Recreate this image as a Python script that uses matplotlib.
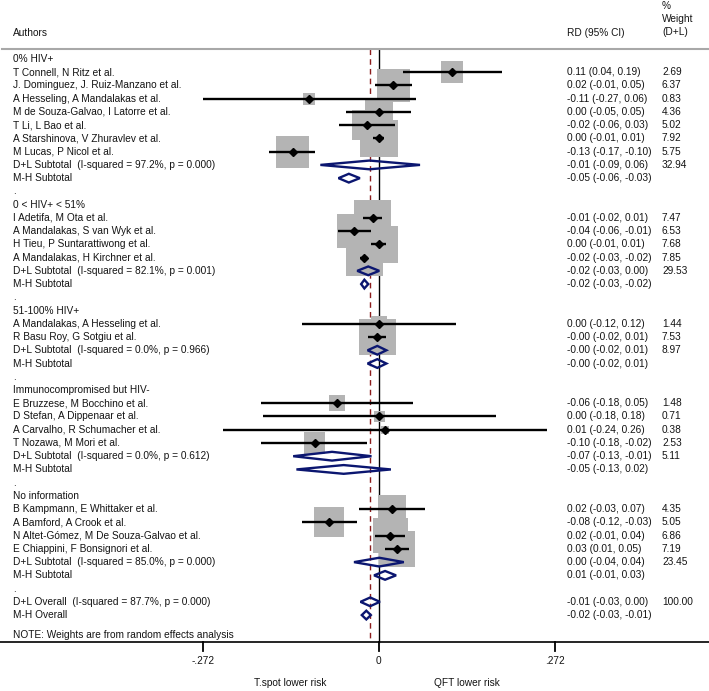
import matplotlib
matplotlib.use('Agg')
import matplotlib.pyplot as plt
from matplotlib.patches import Rectangle, Polygon
import matplotlib.transforms as mtransforms
import numpy as np

plt.rcParams['font.family'] = ['Liberation Sans', 'DejaVu Sans']

# ---- data ----
groups = ['0% HIV+', '0 < HIV+ < 51%', '51-100% HIV+',
          'Immunocompromised but HIV-', 'No information']

authors = [
    ['T Connell, N Ritz et al.', 'J. Dominguez, J. Ruiz-Manzano et al.',
     'A Hesseling, A Mandalakas et al.', 'M de Souza-Galvao, I Latorre et al.',
     'T Li, L Bao et al.', 'A Starshinova, V Zhuravlev et al.',
     'M Lucas, P Nicol et al.'],
    ['I Adetifa, M Ota et al.', 'A Mandalakas, S van Wyk et al.',
     'H Tieu, P Suntarattiwong et al.', 'A Mandalakas, H Kirchner et al.'],
    ['A Mandalakas, A Hesseling et al.', 'R Basu Roy, G Sotgiu et al.'],
    ['E Bruzzese, M Bocchino et al.', 'D Stefan, A Dippenaar et al.',
     'A Carvalho, R Schumacher et al.', 'T Nozawa, M Mori et al.'],
    ['B Kampmann, E Whittaker et al.', 'A Bamford, A Crook et al.',
     'N Altet-Gómez, M De Souza-Galvao et al.', 'E Chiappini, F Bonsignori et al.'],
]
est = [
    [0.114, 0.023, -0.107, 0.001, -0.018, 0.001, -0.133],
    [-0.009, -0.038, 0.001, -0.022],
    [0.001, -0.002],
    [-0.064, 0.001, 0.010, -0.099],
    [0.020, -0.076, 0.018, 0.029],
]
lo = [
    [0.038, -0.006, -0.272, -0.050, -0.061, -0.008, -0.169],
    [-0.024, -0.063, -0.012, -0.028],
    [-0.118, -0.017],
    [-0.182, -0.178, -0.240, -0.181],
    [-0.030, -0.119, -0.006, 0.0101],
]
hi = [
    [0.191, 0.052, 0.058, 0.050, 0.026, 0.009, -0.098],
    [0.006, -0.011, 0.012, -0.016],
    [0.120, 0.012],
    [0.053, 0.181, 0.260, -0.018],
    [0.071, -0.034, 0.041, 0.047],
]
weight = [
    [2.69, 6.37, 0.83, 4.36, 5.02, 7.92, 5.75],
    [7.47, 6.53, 7.68, 7.85],
    [1.44, 7.53],
    [1.48, 0.71, 0.38, 2.53],
    [4.35, 5.05, 6.86, 7.19],
]

# D+L (random effects) subtotals
dl_est = [-0.014, -0.016, -0.002, -0.072, 0.001]
dl_lo = [-0.090, -0.033, -0.017, -0.132, -0.038]
dl_hi = [0.064, 0.001, 0.012, -0.011, 0.039]
dl_weight = [32.94, 29.53, 8.97, 5.11, 23.45]
i2 = [97.2, 82.1, 0.0, 0.0, 85.0]
pval = [0.000, 0.001, 0.966, 0.612, 0.000]

# M-H (fixed effects) subtotals
mh_est = [-0.046, -0.022, -0.002, -0.054, 0.010]
mh_lo = [-0.062, -0.027, -0.017, -0.127, -0.007]
mh_hi = [-0.029, -0.016, 0.012, 0.019, 0.027]

# overall
dl_all = (-0.013, -0.028, 0.002)
dl_all_weight = 100.00
dl_all_i2, dl_all_p = 87.7, 0.000
mh_all = (-0.019, -0.026, -0.012)

ticks = [-0.272, 0, 0.272]
tick_labels = ['-.272', '0', '.272']
left_label = 'T.spot lower risk'
right_label = 'QFT lower risk'

# ---- layout ----
W, H = 709, 691
PX_UNIT = 647.0     # pixels per RD unit
X0 = 378.6          # pixel of RD = 0
PX_ROW = 13.24      # pixels per row
Y0 = 59.0           # pixel of first row

fig = plt.figure(figsize=(W / 100, H / 100), dpi=100)
ax = fig.add_axes([0, 0, 1, 1])
ax.set_xlim(-X0 / PX_UNIT, (W - X0) / PX_UNIT)
ax.set_ylim((H - Y0) / PX_ROW, -Y0 / PX_ROW)
ax.axis('off')

tr = mtransforms.blended_transform_factory(fig.transFigure, ax.transData)
fs = 7.3
txt_col = '#141414'
x_lab, x_rd, x_w = 13 / W, 567 / W, 662 / W

navy = '#0b1670'
box_col = '#b4b4b4'


def fmt(e, l, h):
    return f'{e:.2f} ({l:.2f}, {h:.2f})'


def put(x, y, s, **kw):
    ax.text(x, y, s, transform=tr, fontsize=fs, va='center', color=txt_col, **kw)


def diamond(e, l, h, row, hh=0.33):
    ax.add_patch(Polygon([(l, row), (e, row - hh), (h, row), (e, row + hh)],
                         closed=True, facecolor='none', edgecolor=navy,
                         lw=1.7, zorder=5, joinstyle='miter'))


row = 0
for g in range(len(groups)):
    put(x_lab, row, groups[g])
    row += 1
    for i in range(len(authors[g])):
        side = 13.4 * np.sqrt(weight[g][i])
        ax.add_patch(Rectangle((est[g][i] - side / 2 / PX_UNIT, row - side / 2 / PX_ROW),
                               side / PX_UNIT, side / PX_ROW,
                               facecolor=box_col, edgecolor='none', zorder=2))
        ax.plot([lo[g][i], hi[g][i]], [row, row], color='black', lw=1.7,
                solid_capstyle='butt', zorder=3)
        ax.plot(est[g][i], row, marker='D', color='black', ms=3.8, zorder=4)
        put(x_lab, row, authors[g][i])
        put(x_rd, row, fmt(est[g][i], lo[g][i], hi[g][i]))
        put(x_w, row, f'{weight[g][i]:.2f}')
        row += 1
    diamond(dl_est[g], dl_lo[g], dl_hi[g], row)
    put(x_lab, row, f'D+L Subtotal  (I-squared = {i2[g]:.1f}%, p = {pval[g]:.3f})')
    put(x_rd, row, fmt(dl_est[g], dl_lo[g], dl_hi[g]))
    put(x_w, row, f'{dl_weight[g]:.2f}')
    row += 1
    diamond(mh_est[g], mh_lo[g], mh_hi[g], row)
    put(x_lab, row, 'M-H Subtotal')
    put(x_rd, row, fmt(mh_est[g], mh_lo[g], mh_hi[g]))
    row += 1
    put(x_lab, row, '.')
    row += 1

diamond(*dl_all, row)
put(x_lab, row, f'D+L Overall  (I-squared = {dl_all_i2:.1f}%, p = {dl_all_p:.3f})')
put(x_rd, row, fmt(*dl_all))
put(x_w, row, f'{dl_all_weight:.2f}')
row += 1
diamond(*mh_all, row)
put(x_lab, row, 'M-H Overall')
put(x_rd, row, fmt(*mh_all))
row += 1
put(x_lab, row + 0.5, 'NOTE: Weights are from random effects analysis')

axis_row = row + 1
top_row = -0.755

# header
put(x_lab, -1.96, 'Authors')
put(x_rd, -1.96, 'RD (95% CI)')
put(x_w, -4.0, '%')
put(x_w, -3.02, 'Weight')
put(x_w, -2.04, '(D+L)')

# reference lines
ax.plot([0, 0], [top_row, axis_row], color='black', lw=1.0, zorder=1)
ax.plot([dl_all[0], dl_all[0]], [top_row, axis_row], color='#8c1c1c', lw=1.0,
        dashes=(4, 3), zorder=1)
ax.plot([2 / W, 1], [top_row, top_row], color='#a8a8a8', lw=1.5, transform=tr, zorder=1)
ax.plot([0, 1], [axis_row, axis_row], color='black', lw=1.2, transform=tr, zorder=1)

# x ticks
for t, tl in zip(ticks, tick_labels):
    ax.plot([t, t], [axis_row, axis_row + 0.72], color='black', lw=1.3)
    ax.text(t, axis_row + 1.47, tl, ha='center', va='center', fontsize=fs, color=txt_col)
ax.text((ticks[0] + ticks[1]) / 2, axis_row + 3.13, left_label, ha='center', va='center',
        fontsize=fs, color=txt_col)
ax.text((ticks[1] + ticks[2]) / 2, axis_row + 3.13, right_label, ha='center', va='center',
        fontsize=fs, color=txt_col)

fig.savefig('out.png', dpi=100)
